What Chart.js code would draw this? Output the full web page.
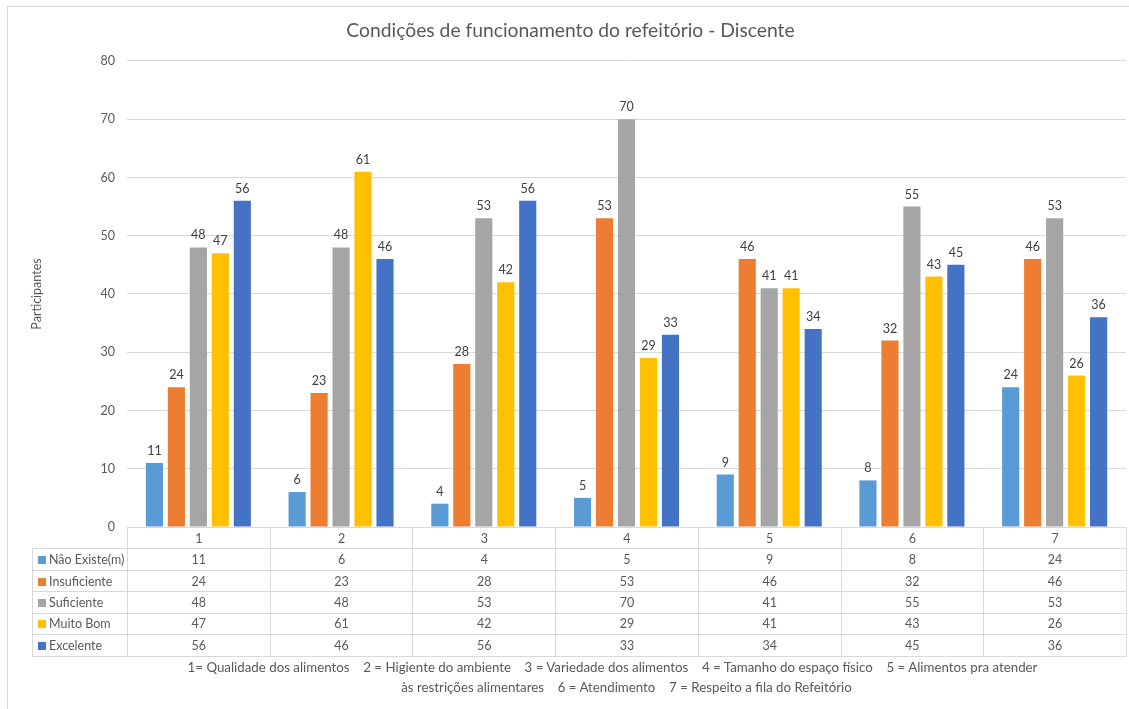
<!DOCTYPE html>
<html>
<head>
<meta charset="utf-8">
<script src="https://cdn.jsdelivr.net/npm/chart.js@4"></script>
<style>
  html, body { margin: 0; padding: 0; background: #fff; }
  #wrap { position: relative; width: 1129px; height: 709px; overflow: hidden; font-family: Lato, "Open Sans", sans-serif; }
  #frame { position: absolute; left: 7px; top: 6px; width: 1200px; height: 800px; border: 1px solid #d9d9d9; box-sizing: border-box; }
  canvas { position: absolute; left: 0; top: 0; }
  #tbl { position: absolute; border-collapse: collapse; table-layout: fixed; font-size: 12.5px; color: #595959; }
  #tbl td { border: 1px solid #d9d9d9; padding: 0; text-align: center; white-space: nowrap; overflow: hidden; }
  #tbl td.leg { text-align: left; padding-left: 5px; }
  #tbl td.blank { border: none; border-bottom: 1px solid #d9d9d9; }
  .sw { display: inline-block; width: 8px; height: 8px; margin-right: 3px; vertical-align: 0px; }
  #note { position: absolute; font-size: 13.3px; color: #595959; text-align: center; line-height: 20px; white-space: nowrap; }
  #note div { text-align: center; }
</style>
</head>
<body>
<div id="wrap">
  <div id="frame"></div>
  <canvas id="c" width="1129" height="709"></canvas>
  <table id="tbl"></table>
  <div id="note"></div>
</div>
<script>
const categories = ['1', '2', '3', '4', '5', '6', '7'];
const seriesNames = ['Não Existe(m)', 'Insuficiente', 'Suficiente', 'Muito Bom', 'Excelente'];
const naoExiste   = [11, 6, 4, 5, 9, 8, 24];
const insuficiente = [24, 23, 28, 53, 46, 32, 46];
const suficiente  = [48, 48, 53, 70, 41, 55, 53];
const muitoBom    = [47, 61, 42, 29, 41, 43, 26];
const excelente   = [56, 46, 56, 33, 34, 45, 36];
const seriesColors = ['#5B9BD5', '#ED7D31', '#A5A5A5', '#FFC000', '#4472C4'];
const yTicks = [0, 10, 20, 30, 40, 50, 60, 70, 80];
const titleText = 'Condições de funcionamento do refeitório - Discente';
const yTitle = 'Participantes';
const noteLines = [
  '1= Qualidade dos alimentos    2 = Higiente do ambiente    3 = Variedade dos alimentos    4 = Tamanho do espaço físico    5 = Alimentos pra atender',
  'às restrições alimentares    6 = Atendimento    7 = Respeito a fila do Refeitório'
];

const seriesValues = [naoExiste, insuficiente, suficiente, muitoBom, excelente];
const FONT = 'Lato, "Open Sans", sans-serif';

const valueLabels = {
  id: 'valueLabels',
  afterDatasetsDraw(chart) {
    const ctx = chart.ctx;
    ctx.save();
    ctx.font = '12.5px ' + FONT;
    ctx.fillStyle = '#404040';
    ctx.textAlign = 'center';
    ctx.textBaseline = 'alphabetic';
    chart.data.datasets.forEach((ds, i) => {
      const meta = chart.getDatasetMeta(i);
      meta.data.forEach((el, j) => {
        ctx.fillText(String(ds.data[j]), el.x, el.y - 8);
      });
    });
    ctx.restore();
  }
};

const chart = new Chart(document.getElementById('c'), {
  type: 'bar',
  data: {
    labels: categories,
    datasets: seriesNames.map((n, i) => ({
      label: n,
      data: seriesValues[i],
      backgroundColor: seriesColors[i],
      categoryPercentage: 0.77,
      barPercentage: 0.78
    }))
  },
  options: {
    responsive: false,
    devicePixelRatio: 1,
    animation: false,
    layout: { padding: { left: 15, right: 3, top: 19, bottom: 182 } },
    plugins: {
      legend: { display: false },
      tooltip: { enabled: false },
      title: {
        display: true,
        text: titleText,
        color: '#595959',
        font: { family: FONT, size: 19.3, weight: 'normal' },
        padding: { top: 0, bottom: 18.8 }
      }
    },
    scales: {
      x: { display: false },
      y: {
        min: 0, max: 80,
        afterBuildTicks(scale) { scale.ticks = yTicks.map(v => ({ value: v })); },
        afterFit(scale) { scale.width = 112; },
        border: { display: false },
        grid: { color: '#d9d9d9', drawTicks: false, lineWidth: 1 },
        ticks: { color: '#595959', font: { family: FONT, size: 12.5 }, padding: 12 },
        title: {
          display: true, text: yTitle, color: '#595959',
          font: { family: FONT, size: 12.5 }, padding: { top: 14, bottom: 0 }
        }
      }
    }
  },
  plugins: [valueLabels]
});

// Data table aligned to the chart's category scale
(function buildTable() {
  const ca = chart.chartArea;
  const legW = 95;
  const colW = (ca.right - ca.left) / categories.length;
  const rowH = 21.45;
  const tbl = document.getElementById('tbl');
  tbl.style.left = (ca.left - legW) + 'px';
  tbl.style.top = Math.round(ca.bottom) + 'px';
  tbl.style.width = (legW + colW * categories.length) + 'px';
  let html = '<colgroup><col style="width:' + legW + 'px">';
  categories.forEach(() => { html += '<col style="width:' + colW + 'px">'; });
  html += '</colgroup>';
  html += '<tr style="height:' + rowH + 'px"><td class="blank"></td>';
  categories.forEach(c => { html += '<td>' + c + '</td>'; });
  html += '</tr>';
  seriesNames.forEach((n, i) => {
    html += '<tr style="height:' + rowH + 'px"><td class="leg"><span class="sw" style="background:' + seriesColors[i] + '"></span>' + n + '</td>';
    seriesValues[i].forEach(v => { html += '<td>' + v + '</td>'; });
    html += '</tr>';
  });
  tbl.innerHTML = html;
  const note = document.getElementById('note');
  note.style.left = ca.left + 'px';
  note.style.width = (ca.right - ca.left) + 'px';
  note.style.top = '657px';
  const shifts = [28, 0];
  note.innerHTML = noteLines.map((l, i) =>
    '<div style="padding-right:' + shifts[i] + 'px">' +
    l.replace(/ {2,}/g, m => '&nbsp;'.repeat(m.length - 1) + ' ') + '</div>').join('');
})();
</script>
</body>
</html>
